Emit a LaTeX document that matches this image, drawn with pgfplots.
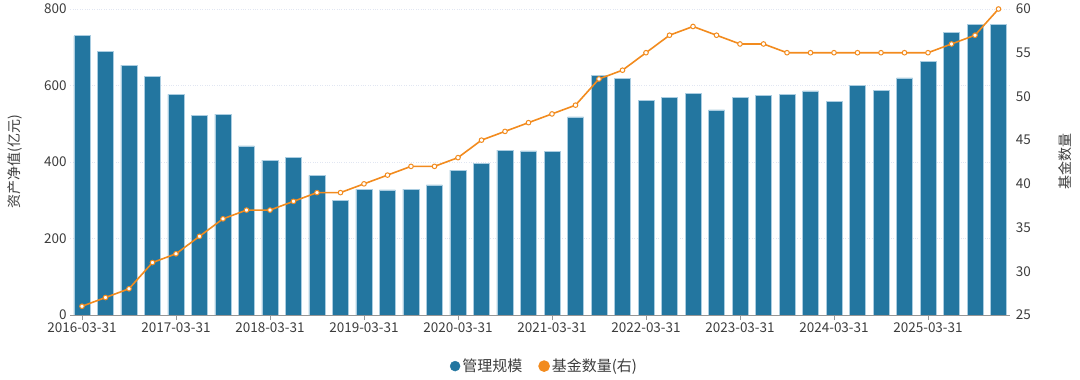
\documentclass[border=0pt]{standalone}
\usepackage{pgfplots}
\usepackage{pgfplotstable}
\pgfplotsset{compat=1.18}
\usepackage{fontspec}
\setmainfont{Noto Sans CJK SC}
\definecolor{barblue}{RGB}{35,118,160}
\definecolor{baredge}{RGB}{170,205,225}
\definecolor{lineorange}{RGB}{242,139,30}
\definecolor{txt}{RGB}{60,60,60}
\definecolor{gridc}{RGB}{225,230,242}
\definecolor{axc}{RGB}{150,150,150}

\pgfplotstableread{
x aum n
0 730 26
1 690 27
2 653 28
3 624 31
4 577 32
5 521 34
6 525 36
7 442 37
8 405 37
9 411 38
10 365 39
11 300 39
12 329 40
13 327 41
14 329 42
15 340 42
16 379 43
17 397 45
18 431 46
19 429 47
20 428 48
21 518 49
22 627 52
23 619 53
24 562 55
25 569 57
26 580 58
27 536 57
28 569 56
29 574 56
30 577 55
31 586 55
32 558 55
33 601 55
34 588 55
35 620 55
36 662 55
37 739 56
38 759 57
39 760 60
}\data

\begin{document}
\begin{tikzpicture}[font=\fontsize{13}{15}\selectfont]
\path[use as bounding box] (-70.25pt,-65pt) rectangle (1009.75pt,315pt);
\begin{axis}[
  at={(0pt,0pt)}, anchor=south west,
  scale only axis, width=940pt, height=306pt,
  xmin=-0.5, xmax=39.5, ymin=0, ymax=800,
  axis x line*=bottom, axis y line*=left,
  y axis line style={draw=none},
  x axis line style={draw=axc, line width=0.8pt},
  xtick={0,4,...,36},
  xticklabels={2016-03-31,2017-03-31,2018-03-31,2019-03-31,2020-03-31,2021-03-31,2022-03-31,2023-03-31,2024-03-31,2025-03-31},
  ytick={0,200,...,800},
  x tick style={draw=axc, line width=0.8pt},
  xtick align=outside,
  major tick length=5pt,
  y tick style={draw=none},
  ymajorgrids, grid style={gridc, dotted, line width=0.6pt},
  tick label style={txt, font=\fontsize{13.5}{15}\selectfont},
  /pgf/number format/assume math mode=true,
  ylabel={资产净值(亿元)}, ylabel style={txt, font=\fontsize{14}{16}\selectfont, at={(-55pt,153pt)}, anchor=center},
  xticklabel style={yshift=1pt},
]
\addplot[ybar, bar width=16pt, fill=barblue, draw=baredge, line width=0.6pt] table[x=x, y=aum] {\data};
\end{axis}
\begin{axis}[
  at={(0pt,0pt)}, anchor=south west,
  scale only axis, width=940pt, height=306pt,
  xmin=-0.5, xmax=39.5, ymin=25, ymax=60,
  axis x line=none, axis y line*=right,
  y axis line style={draw=none},
  y tick style={draw=none},
  ytick={25,30,...,60},
  tick label style={txt, font=\fontsize{13.5}{15}\selectfont},
  yticklabel style={xshift=2pt},
  /pgf/number format/assume math mode=true,
  ylabel={基金数量}, ylabel style={txt, font=\fontsize{14}{16}\selectfont, at={(995pt,153pt)}, anchor=center, rotate=0},
  legend style={draw=none, fill=none, at={(0.5045,-0.167)}, anchor=center, legend columns=2,
    font=\fontsize{15}{17}\selectfont\color{txt},
    /tikz/every even column/.append style={column sep=14pt}},
  legend cell align=left,
]
\addlegendimage{legend image code/.code={\fill[barblue] (0.15em,0) circle (5pt);}}
\addlegendentry{管理规模}
\addplot[lineorange, line width=1.6pt, mark=*, mark size=2.3pt, mark options={fill=white, draw=lineorange, line width=1pt},
  legend image code/.code={\fill[lineorange] (0.15em,0) circle (5pt);}] table[x=x, y=n] {\data};
\addlegendentry{基金数量(右)}
\end{axis}
\end{tikzpicture}
\end{document}
